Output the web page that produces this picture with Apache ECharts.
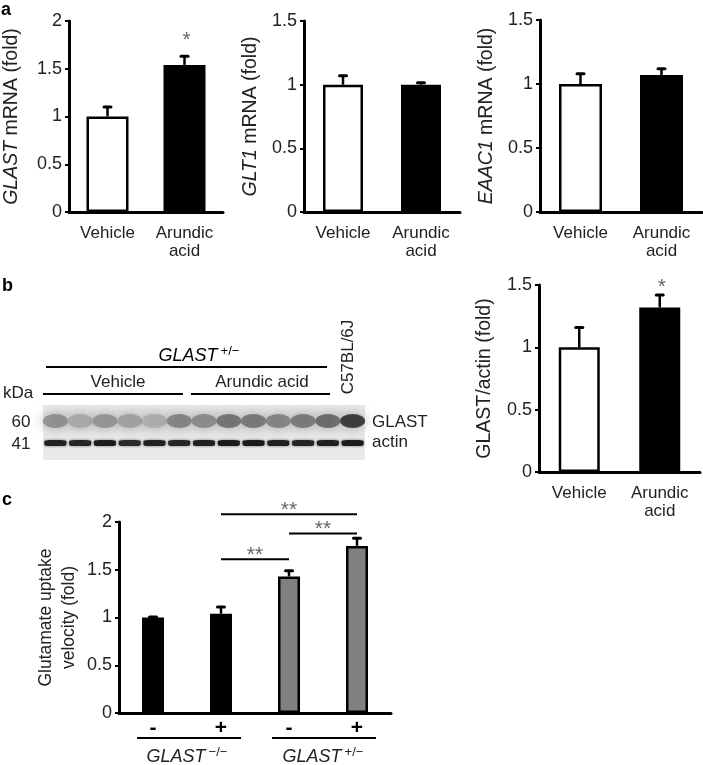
<!DOCTYPE html>
<html>
<head>
<meta charset="utf-8">
<script src="https://cdn.jsdelivr.net/npm/echarts@6/dist/echarts.min.js"></script>
<style>
  html, body { margin: 0; padding: 0; background: #fff; }
  #main { width: 703px; height: 765px; }
</style>
</head>
<body>
<div id="main"></div>
<script>
const FONT = '"Liberation Sans", Arial, sans-serif';

// panel a: mRNA levels (fold of vehicle)
const treatments = ['Vehicle', 'Arundic\nacid'];
const glastMrna = [1.00, 1.54];
const glastMrnaErr = [0.10, 0.09];
const glastMrnaSig = ['', '*'];
const glt1Mrna = [1.00, 1.00];
const glt1MrnaErr = [0.07, 0.015];
const eaac1Mrna = [1.00, 1.07];
const eaac1MrnaErr = [0.08, 0.05];

// panel b: western blot (band darkness 0..1 per lane) and quantification
const blotLanes = [1, 2, 3, 4, 5, 6, 7, 8, 9, 10, 11, 12, 13];
const glastBand = [0.45, 0.30, 0.42, 0.35, 0.28, 0.52, 0.48, 0.62, 0.60, 0.52, 0.58, 0.66, 0.95];
const actinBand = [0.92, 0.90, 0.95, 0.88, 0.92, 0.90, 0.93, 0.95, 0.95, 0.92, 0.90, 0.93, 0.95];
const blotRatio = [1.00, 1.32];
const blotRatioErr = [0.16, 0.10];
const blotSig = ['', '*'];

// panel c: glutamate uptake
const aaTreatment = ['-', '+', '-', '+'];
const genotypes = ['−/−', '+/−'];
const barGenotype = ['−/−', '−/−', '+/−', '+/−'];
const uptake = [1.00, 1.04, 1.43, 1.75];
const uptakeErr = [0.005, 0.07, 0.06, 0.08];
const uptakeSig = [[1, 3, 2.08], [2, 3, 1.88], [1, 2, 1.61]];

var myChart = echarts.init(document.getElementById('main'));

const grids = [
  { left: 69, top: 21, width: 154, height: 191 },   // a GLAST
  { left: 304, top: 21, width: 156, height: 191 },  // a GLT1
  { left: 540, top: 20, width: 162, height: 192 },  // a EAAC1
  { left: 539, top: 285, width: 161, height: 187 }, // b ratio
  { left: 119, top: 522, width: 272, height: 191 }, // c uptake
  { left: 43, top: 410, width: 322, height: 44 }    // blot
].map(g => Object.assign({ outerBoundsMode: 'none' }, g));

function catAxis(gridIndex, cats, extra) {
  return Object.assign({
    type: 'category', gridIndex: gridIndex, data: cats,
    axisLine: { lineStyle: { color: '#000', width: 3 } },
    axisTick: { show: false },
    axisLabel: { color: '#222', fontSize: 17, fontFamily: FONT, lineHeight: 18, margin: 12, interval: 0 }
  }, extra || {});
}

function valAxis(gridIndex, max, name, nameGap, nameSize, nameLH) {
  return {
    type: 'value', gridIndex: gridIndex, min: 0, max: max, interval: 0.5,
    name: name, nameLocation: 'middle', nameGap: nameGap, nameMoveOverlap: false,
    nameTextStyle: {
      color: '#222', fontSize: nameSize, fontFamily: FONT, lineHeight: nameLH,
      rich: { i: { fontStyle: 'italic', fontSize: nameSize, fontFamily: FONT, color: '#222' } }
    },
    axisLine: { show: true, lineStyle: { color: '#000', width: 3 } },
    axisTick: { show: true, length: 4, lineStyle: { color: '#000', width: 2 } },
    axisLabel: { color: '#222', fontSize: 18, fontFamily: FONT, margin: 7 },
    splitLine: { show: false }
  };
}

function barSeries(idx, vals, colorOf, width) {
  return {
    type: 'bar', xAxisIndex: idx, yAxisIndex: idx, data: vals, barWidth: width,
    itemStyle: { color: p => colorOf(p.dataIndex), borderColor: '#000', borderWidth: 2.5 },
    silent: true, animation: false
  };
}

function errSeries(idx, vals, errs, sig, starGap) {
  return {
    type: 'custom', xAxisIndex: idx, yAxisIndex: idx,
    data: vals.map((v, i) => [i, v, errs[i]]),
    encode: { x: 0, y: 1 },
    clip: false, z: 5, silent: true, animation: false,
    renderItem: function (params, api) {
      const x = api.value(0), v = api.value(1), e = api.value(2);
      const p0 = api.coord([x, v]), p1 = api.coord([x, v + e]);
      const ch = [
        { type: 'line', shape: { x1: p0[0], y1: p0[1], x2: p1[0], y2: p1[1] }, style: { stroke: '#000', lineWidth: 2.5 } },
        { type: 'line', shape: { x1: p1[0] - 3.5, y1: p1[1], x2: p1[0] + 3.5, y2: p1[1] }, style: { stroke: '#000', lineWidth: 3, lineCap: 'round' } }
      ];
      const s = sig && sig[params.dataIndex];
      if (s) {
        ch.push({ type: 'text', style: { text: s, x: p1[0] + 2, y: p1[1] - starGap, align: 'center', verticalAlign: 'middle',
          fill: '#666', font: '21px ' + FONT } });
      }
      return { type: 'group', children: ch };
    }
  };
}

const whiteBlack = i => (i === 0 ? '#fff' : '#000');
const genoColor = i => (barGenotype[i] === '−/−' ? '#000' : '#808080');

const series = [
  barSeries(0, glastMrna, whiteBlack, 42), errSeries(0, glastMrna, glastMrnaErr, glastMrnaSig, 16),
  barSeries(1, glt1Mrna, whiteBlack, 40), errSeries(1, glt1Mrna, glt1MrnaErr, null, 0),
  barSeries(2, eaac1Mrna, whiteBlack, 43), errSeries(2, eaac1Mrna, eaac1MrnaErr, null, 0),
  barSeries(3, blotRatio, whiteBlack, 41), errSeries(3, blotRatio, blotRatioErr, blotSig, 8),
  barSeries(4, uptake, genoColor, 22), errSeries(4, uptake, uptakeErr, null, 0),
  {
    type: 'custom', xAxisIndex: 4, yAxisIndex: 4, data: uptakeSig,
    encode: { x: [0, 1], y: 2 }, clip: false, z: 5, silent: true, animation: false,
    renderItem: function (params, api) {
      const y = api.value(2);
      const a = api.coord([api.value(0), y]), b = api.coord([api.value(1), y]);
      return { type: 'group', children: [
        { type: 'line', shape: { x1: a[0], y1: a[1], x2: b[0], y2: b[1] }, style: { stroke: '#000', lineWidth: 2 } },
        { type: 'text', style: { text: '**', x: (a[0] + b[0]) / 2, y: a[1] - 4, align: 'center', verticalAlign: 'middle',
          fill: '#666', font: '21px ' + FONT } }
      ] };
    }
  }
];

const blotStart = series.length;
series.push({
  type: 'scatter', xAxisIndex: 6, yAxisIndex: 5, silent: true, animation: false,
  data: blotLanes.map((l, i) => [l, 'GLAST', glastBand[i]]),
  symbol: 'circle', symbolSize: [25, 14],
  itemStyle: { opacity: 0.8, shadowBlur: 12, shadowColor: 'rgba(120,120,120,0.8)' }
});
series.push({
  type: 'scatter', xAxisIndex: 6, yAxisIndex: 5, silent: true, animation: false,
  data: blotLanes.map((l, i) => [l, 'actin', actinBand[i]]),
  symbol: 'roundRect', symbolSize: [22, 6],
  itemStyle: { opacity: 1, shadowBlur: 3, shadowColor: 'rgba(0,0,0,0.5)' }
});

const supRich = {
  i: { fontStyle: 'italic', fontSize: 18, fontFamily: FONT, color: '#222', lineHeight: 22 },
  s: { fontSize: 13, fontFamily: FONT, color: '#222', verticalAlign: 'top', lineHeight: 22, padding: [0, 0, 0, 3] }
};

function txt(x, y, text, extra) {
  return { type: 'text', x: x, y: y, silent: true,
    style: Object.assign({ text: text, fill: '#222', font: '17px ' + FONT, align: 'left', verticalAlign: 'middle' }, extra || {}) };
}
function hline(x1, x2, y) {
  return { type: 'line', silent: true, shape: { x1: x1, y1: y, x2: x2, y2: y }, style: { stroke: '#000', lineWidth: 2 } };
}

myChart.setOption({
  animation: false,
  grid: grids,
  xAxis: [
    catAxis(0, treatments),
    catAxis(1, treatments),
    catAxis(2, treatments),
    catAxis(3, treatments),
    catAxis(4, aaTreatment, { axisLabel: { color: '#000', fontSize: 21, fontWeight: 'bold', fontFamily: FONT, margin: 5 } }),
    {
      type: 'category', gridIndex: 4, data: genotypes, position: 'bottom',
      axisLine: { show: false }, axisTick: { show: false },
      axisLabel: { margin: 33, interval: 0, formatter: v => '{i|GLAST}{s|' + v + '}', rich: supRich }
    },
    { type: 'value', gridIndex: 5, min: 0.5, max: 13.5, show: false }
  ],
  yAxis: [
    valAxis(0, 2, '{i|GLAST} mRNA (fold)', 47, 19.5),
    valAxis(1, 1.5, '{i|GLT1} mRNA (fold)', 43, 19.5),
    valAxis(2, 1.5, '{i|EAAC1} mRNA (fold)', 43, 19.5),
    valAxis(3, 1.5, 'GLAST/actin (fold)', 44, 19.5),
    valAxis(4, 2, 'Glutamate uptake\nvelocity (fold)', 38, 17.5, 23),
    { type: 'category', gridIndex: 5, data: ['actin', 'GLAST'], show: false }
  ],
  visualMap: [{
    show: false, type: 'continuous', seriesIndex: [blotStart, blotStart + 1], dimension: 2,
    min: 0, max: 1, inRange: { color: ['#e4e4e4', '#101010'] }
  }],
  graphic: [
    { type: 'rect', z: -1, silent: true, shape: { x: 43, y: 405, width: 322, height: 55 }, style: { fill: '#e9e9e9' } },
    txt(1, 10, 'a', { font: 'bold 18px ' + FONT, fill: '#000' }),
    txt(2, 286, 'b', { font: 'bold 18px ' + FONT, fill: '#000' }),
    txt(2, 500, 'c', { font: 'bold 18px ' + FONT, fill: '#000' }),
    { type: 'text', x: 199, y: 356, silent: true,
      style: { text: '{i|GLAST}{s|+/−}', rich: supRich, align: 'center', verticalAlign: 'middle' } },
    hline(46, 327, 367),
    txt(118, 382, 'Vehicle', { align: 'center' }),
    txt(262, 382, 'Arundic acid', { align: 'center' }),
    hline(43, 183, 394),
    hline(191, 330, 394),
    txt(3, 393, 'kDa'),
    txt(21, 422, '60', { align: 'center' }),
    txt(21, 444, '41', { align: 'center' }),
    txt(372, 422, 'GLAST'),
    txt(372, 442, 'actin'),
    { type: 'text', x: 348, y: 357, rotation: Math.PI / 2, silent: true,
      style: { text: 'C57BL/6J', fill: '#222', font: '17px ' + FONT, align: 'center', verticalAlign: 'middle' } },
    hline(137, 241, 738),
    hline(272, 376, 738)
  ],
  series: series
});
</script>
</body>
</html>
